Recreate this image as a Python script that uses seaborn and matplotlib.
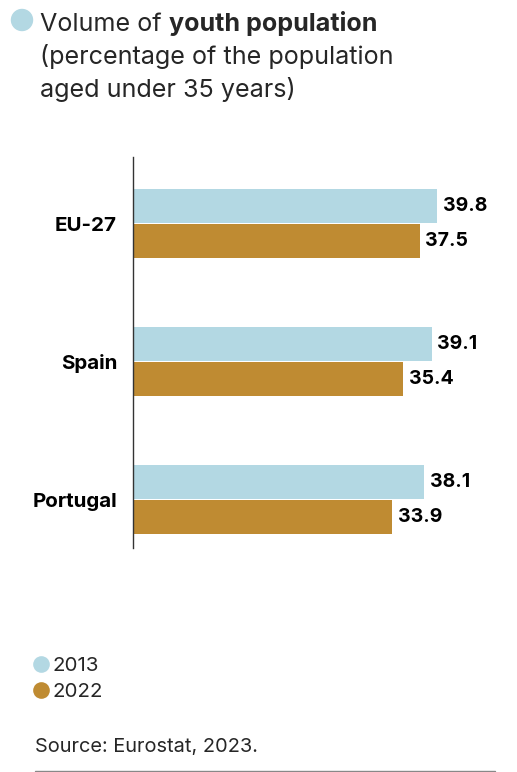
import pandas as pd
import matplotlib.pyplot as plt
from matplotlib.patches import Ellipse
from matplotlib.lines import Line2D
import seaborn as sns

sns.set_theme(style='white')
plt.rcParams['font.family'] = ['Inter', 'DejaVu Sans']

# data
regions = ['EU-27', 'Spain', 'Portugal']
years = ['2013', '2022']
share_2013 = [39.8, 39.1, 38.1]
share_2022 = [37.5, 35.4, 33.9]
year_colors = {'2013': '#B3D8E3', '2022': '#BF8B32'}

df = pd.DataFrame({
	'region': regions * 2,
	'year': [years[0]] * 3 + [years[1]] * 3,
	'share': share_2013 + share_2022,
})

W, H = 517, 772
fig = plt.figure(figsize=(W / 100, H / 100), dpi=100)

def fx(px):
	return px / W

def fy(py):
	return 1 - py / H

ax = fig.add_axes([fx(133), fy(548), fx(500 - 133), (548 - 157) / H])
sns.barplot(data=df, x='share', y='region', hue='year', order=regions,
			hue_order=years, palette=year_colors, saturation=1, orient='h',
			width=0.507, gap=0.05, linewidth=0, legend=False, ax=ax)
ax.set_xlim(0, (500 - 133) / 7.64)
ax.set_ylim(2.351, -0.482)
sns.despine(ax=ax, top=True, right=True, bottom=True, left=False)
ax.spines['left'].set_color('#333333')
ax.spines['left'].set_linewidth(1)
ax.set_xticks([])
ax.set_xlabel('')
ax.set_ylabel('')
ax.tick_params(axis='y', length=0, pad=11.5)
for lab in ax.get_yticklabels():
	lab.set_fontweight('bold')
	lab.set_fontsize(14.8)
	lab.set_color('black')

for cont in ax.containers:
	ax.bar_label(cont, fmt='%.1f', padding=4, fontsize=14,
				 fontweight='bold', color='black')

# title with a dot in front, first line mixed weight
fig.patches.append(Ellipse((fx(22), fy(20)), fx(21), 21 / H,
						   color=year_colors['2013'], transform=fig.transFigure))
title_size = 18.1
t1 = fig.text(fx(40), fy(31), 'Volume of ', fontsize=title_size, va='baseline')
fig.canvas.draw()
bb = t1.get_window_extent(fig.canvas.get_renderer())
fig.text(bb.x1 / W, fy(31), 'youth population', fontsize=title_size,
		 fontweight='bold', va='baseline')
fig.text(fx(40), fy(64), '(percentage of the population', fontsize=title_size, va='baseline')
fig.text(fx(40), fy(97), 'aged under 35 years)', fontsize=title_size, va='baseline')

# legend
handles = [Line2D([], [], marker='o', linestyle='', markersize=12,
				  markerfacecolor=year_colors[y], markeredgecolor='none', label=y)
		   for y in years]
fig.legend(handles=handles, loc='upper left', bbox_to_anchor=(fx(34), fy(657)),
		   frameon=False, fontsize=14.8, handlelength=0.7, handletextpad=0.2,
		   labelspacing=0.35, borderaxespad=0, borderpad=0)

fig.text(fx(35), fy(752), 'Source: Eurostat, 2023.', fontsize=14.4, va='baseline')
fig.add_artist(Line2D([fx(35), fx(495)], [fy(771), fy(771)], color='#888888',
					  linewidth=1, transform=fig.transFigure))

fig.savefig('out.png', dpi=100)
